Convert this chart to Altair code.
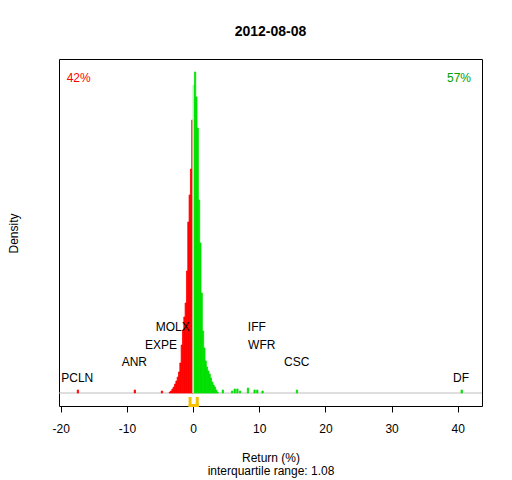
import altair as alt
import pandas as pd

# ---------------- data ----------------
title_text = "2012-08-08"
x_title = ["Return (%)", "interquartile range: 1.08"]
y_title = "Density"

bin_width = 0.2
# negative-return bins (left edge, density height in arbitrary units)
red_left = [-0.2, -0.4, -0.6, -0.8, -1.0, -1.2, -1.4, -1.6, -1.8, -2.0,
            -2.2, -2.4, -2.6, -2.8, -3.0, -3.2, -3.4, -3.6, -4.8, -8.9, -17.5]
red_height = [273, 224, 198, 171, 122, 90, 76, 63, 48, 30,
              21, 16, 12, 9, 6, 4, 2, 1, 2, 3, 3]
# positive-return bins
green_left = [0.0, 0.2, 0.4, 0.6, 0.8, 1.0, 1.2, 1.4, 1.6, 1.8,
              2.0, 2.2, 2.4, 2.6, 2.8, 3.0, 3.2, 3.4, 3.6,
              4.4, 5.8, 6.2, 6.6, 7.0, 8.2, 9.2, 9.6, 10.4, 15.6, 40.5]
green_height = [308, 321, 296, 265, 193, 150, 100, 62, 45, 32,
                26, 22, 19, 15, 11, 8, 6, 3, 1,
                3, 2, 4, 4, 2, 5, 3, 3, 2, 3, 3]

# outlier ticker labels
label_names = ["PCLN", "ANR", "EXPE", "MOLX", "IFF", "WFR", "CSC", "DF"]
label_x = [-17.5, -8.87, -4.84, -3.07, 9.63, 10.38, 15.67, 40.5]
label_y = [14.6, 30.6, 48.0, 65.6, 65.6, 48.0, 30.6, 14.6]

# share of negative / positive returns
pct_neg = "42%"
pct_pos = "57%"

# quartiles (IQR = 1.08)
q1, q3 = -0.45, 0.63

x_ticks = [-20, -10, 0, 10, 20, 30, 40]
x_domain = [-20.26, 43.66]
y_domain = [-13, 334]

# ---------------- tables ----------------
bars = pd.DataFrame({
    "x0": red_left + green_left,
    "x1": [v + bin_width for v in red_left] + [v + bin_width for v in green_left],
    "h": red_height + green_height,
    "side": ["neg"] * len(red_left) + ["pos"] * len(green_left),
})
labels = pd.DataFrame({"name": label_names, "x": label_x, "y": label_y})
quart = pd.DataFrame({"q": [q1, q3]})
iqr = pd.DataFrame({"a": [q1], "b": [q3]})

FONT = "Liberation Sans"
xs = alt.Scale(domain=x_domain, nice=False, zero=False)
ys = alt.Scale(domain=y_domain, nice=False, zero=False)
side_scale = alt.Scale(domain=["neg", "pos"], range=["#FF0000", "#00E000"])

xaxis = alt.Axis(values=x_ticks, tickSize=6, tickColor="black", domain=False, grid=False,
                 labelFontSize=12, labelFont=FONT, labelColor="black", labelPadding=11,
                 labelFlush=False, labelExpr="datum.value",
                 title=x_title, titleFontSize=12, titleFont=FONT,
                 titleFontWeight="normal", titleColor="black", titleBaseline="top",
                 titleY=46.5, titleLineHeight=13.3)
yaxis = alt.Axis(labels=False, ticks=False, domain=False, grid=False, title=y_title,
                 titleFontSize=12, titleFont=FONT, titleFontWeight="normal",
                 titleColor="black", titleAngle=270, titleX=-46, titleY=174,
                 titleBaseline="middle", titleAlign="center")

base_line = alt.Chart(pd.DataFrame({"y": [0]})).mark_rule(color="#BEBEBE", strokeWidth=1).encode(
    y=alt.Y("y:Q", scale=ys, axis=yaxis)
)

hist = alt.Chart(bars).mark_rect(strokeWidth=0.8).encode(
    x=alt.X("x0:Q", scale=xs, axis=xaxis),
    x2="x1:Q",
    y=alt.Y("h:Q", scale=ys),
    y2=alt.datum(0),
    color=alt.Color("side:N", scale=side_scale, legend=None),
    stroke=alt.Color("side:N", scale=side_scale, legend=None),
)

# thin white separation between the negative and positive bars
gap = alt.Chart(pd.DataFrame({"x": [0], "y0": [0], "y1": [max(green_height)]})).mark_rule(
    color="white", strokeWidth=1.2).encode(x=alt.X("x:Q", scale=xs), y=alt.Y("y0:Q", scale=ys), y2="y1:Q")

txt = alt.Chart(labels).mark_text(font=FONT, fontSize=12, color="black", baseline="middle", align="center").encode(
    x=alt.X("x:Q", scale=xs), y=alt.Y("y:Q", scale=ys), text="name:N"
)

corner = pd.DataFrame({"xl": [x_domain[0]], "xr": [x_domain[1]], "yt": [y_domain[1]],
                       "neg": [pct_neg], "pos": [pct_pos]})
neg_txt = alt.Chart(corner).mark_text(font=FONT, fontSize=12, color="#FF0000", align="left",
                                      baseline="middle", dx=7.7, dy=19.4).encode(
    x=alt.X("xl:Q", scale=xs), y=alt.Y("yt:Q", scale=ys), text="neg:N")
pos_txt = alt.Chart(corner).mark_text(font=FONT, fontSize=12, color="#00A000", align="right",
                                      baseline="middle", dx=-11, dy=19.4).encode(
    x=alt.X("xr:Q", scale=xs), y=alt.Y("yt:Q", scale=ys), text="pos:N")

RUG = "#F5C000"
arms = alt.Chart(quart).mark_rule(color=RUG, strokeWidth=3, strokeCap="square").encode(
    x=alt.X("q:Q", scale=xs), y=alt.datum(-5.5, scale=ys), y2=alt.datum(-12.5)
)
bottom = alt.Chart(iqr).mark_rule(color=RUG, strokeWidth=3, strokeCap="square").encode(
    x=alt.X("a:Q", scale=xs), x2="b:Q", y=alt.datum(-12.5, scale=ys)
)

chart = alt.layer(base_line, hist, gap, txt, neg_txt, pos_txt, arms, bottom).properties(
    width=423, height=347,
    autosize="none",
    background="white",
    padding={"left": 51, "top": 51, "right": 22, "bottom": 73},
    title=alt.TitleParams(title_text, font=FONT, fontSize=14, fontWeight="bold", color="black",
                          anchor="middle", offset=20),
).configure_view(stroke="black", strokeWidth=1)

chart.save("out.html", embed_options={"renderer": "svg", "actions": False})
